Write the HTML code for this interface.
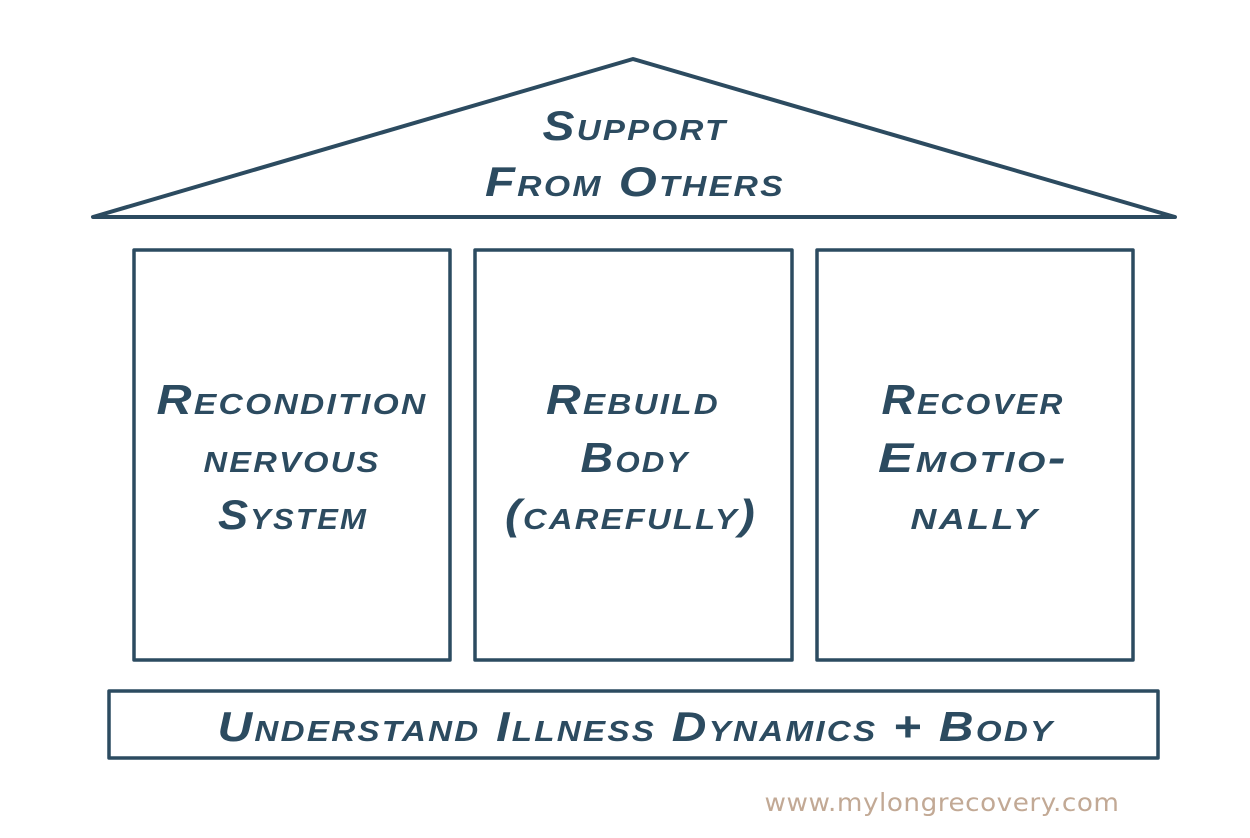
<!DOCTYPE html>
<html><head><meta charset="utf-8"><style>
body{margin:0;background:#fff;}
svg text{font-family:"Liberation Sans",sans-serif;font-weight:bold;font-style:italic;fill:#2c4b60;text-anchor:middle;font-variant:small-caps;letter-spacing:2px;}
</style></head><body>
<svg width="1250" height="833" viewBox="0 0 1250 833" xmlns="http://www.w3.org/2000/svg">
<rect width="1250" height="833" fill="#fff"/>
<g fill="none" stroke="#2c4b60" stroke-linejoin="round">
<polygon points="633,59 93,217 1175,217" stroke-width="4"/>
<rect x="134" y="250" width="316" height="410" stroke-width="3.5"/>
<rect x="475" y="250" width="317" height="410" stroke-width="3.5"/>
<rect x="817" y="250" width="316" height="410" stroke-width="3.5"/>
<rect x="109" y="691" width="1049" height="67" stroke-width="3.5"/>
</g>
<g font-size="42" lengthAdjust="spacingAndGlyphs">
<text x="635" y="140" textLength="185" lengthAdjust="spacingAndGlyphs">Support</text>
<text x="635" y="196" textLength="300" lengthAdjust="spacingAndGlyphs">From Others</text>
<text x="292" y="414" textLength="271" lengthAdjust="spacingAndGlyphs">Recondition</text>
<text x="292" y="472" textLength="177" lengthAdjust="spacingAndGlyphs">nervous</text>
<text x="293" y="529" textLength="150" lengthAdjust="spacingAndGlyphs">System</text>
<text x="633" y="414" textLength="174" lengthAdjust="spacingAndGlyphs">Rebuild</text>
<text x="635" y="472" textLength="109" lengthAdjust="spacingAndGlyphs">Body</text>
<text x="631" y="529" textLength="252" lengthAdjust="spacingAndGlyphs">(carefully)</text>
<text x="973" y="414" textLength="183" lengthAdjust="spacingAndGlyphs">Recover</text>
<text x="973" y="472" textLength="190" lengthAdjust="spacingAndGlyphs">Emotio-</text>
<text x="975" y="529" textLength="129" lengthAdjust="spacingAndGlyphs">nally</text>
<text x="636" y="741" textLength="837" lengthAdjust="spacingAndGlyphs">Understand Illness Dynamics + Body</text>
</g>
<text x="942" y="811" textLength="355" lengthAdjust="spacingAndGlyphs" style="font-family:'DejaVu Sans',sans-serif;font-weight:normal;font-style:normal;font-variant:normal;letter-spacing:0.5px;fill:#c2a995;font-size:25px">www.mylongrecovery.com</text>
</svg>
</body></html>
